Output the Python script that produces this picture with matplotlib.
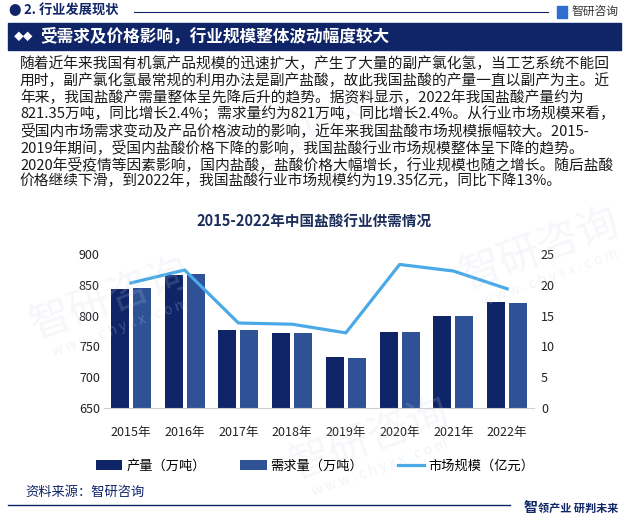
import matplotlib
matplotlib.use("Agg")
import matplotlib.pyplot as plt
import matplotlib.patches as mpatches
from matplotlib.lines import Line2D
import numpy as np

plt.rcParams["font.family"] = ["Noto Sans CJK SC", "DejaVu Sans"]
plt.rcParams["axes.unicode_minus"] = False

# 数据
years = ["2015年", "2016年", "2017年", "2018年", "2019年", "2020年", "2021年", "2022年"]
production = [843, 866, 776, 771, 733, 774, 799, 821.35]
demand = [845, 867, 776, 771, 731, 774, 799, 821]
market_size = [20.3, 22.4, 13.8, 13.6, 12.2, 23.3, 22.24, 19.35]

paragraph = [
    "随着近年来我国有机氯产品规模的迅速扩大，产生了大量的副产氯化氢，当工艺系统不能回",
    "用时，副产氯化氢最常规的利用办法是副产盐酸，故此我国盐酸的产量一直以副产为主。近",
    "年来，我国盐酸产需量整体呈先降后升的趋势。据资料显示，2022年我国盐酸产量约为",
    "821.35万吨，同比增长2.4%；需求量约为821万吨，同比增长2.4%。从行业市场规模来看，",
    "受国内市场需求变动及产品价格波动的影响，近年来我国盐酸市场规模振幅较大。2015-",
    "2019年期间，受国内盐酸价格下降的影响，我国盐酸行业市场规模整体呈下降的趋势。",
    "2020年受疫情等因素影响，国内盐酸，盐酸价格大幅增长，行业规模也随之增长。随后盐酸",
    "价格继续下滑，到2022年，我国盐酸行业市场规模约为19.35亿元，同比下降13%。",
]

NAVY = "#0f2568"
BLUE = "#2f5296"
LINE = "#4aa9e6"
TXT = "#1a1a1a"

W, H = 629, 518
fig = plt.figure(figsize=(W / 100, H / 100), dpi=100)


def fx(px):
    return px / W


def fy(py):
    return 1 - py / H


# 水印（很淡）
for (x, y) in [(110, 300), (330, 130), (370, 440), (540, 250)]:
    fig.text(fx(x), fy(y), "智研咨询", fontsize=30, color="#c9d3e3", alpha=0.18,
             rotation=20, ha="center", va="center", zorder=0)
    fig.text(fx(x + 10), fy(y + 28), "w w w . c h y x x . c o m", fontsize=10,
             color="#c9d3e3", alpha=0.25, rotation=20, ha="center", va="center", zorder=0)

# 顶部标题栏
fig.text(fx(8), fy(11), "●", fontsize=9, color=NAVY, va="center")
fig.text(fx(24), fy(11), "2. 行业发展现状", fontsize=9.5, color=NAVY, weight="bold", va="center")
fig.add_artist(Line2D([fx(134), fx(548)], [fy(12), fy(12)], color=NAVY, lw=0.8))
fig.add_artist(mpatches.Rectangle((fx(557), fy(18)), fx(10), 12 / H, color="#2d6fd0"))
fig.text(fx(571), fy(11), "智研咨询", fontsize=8.5, color="#333333", va="center")

fig.add_artist(mpatches.Rectangle((fx(8), fy(50)), fx(613), 27 / H, color=NAVY))
fig.text(fx(14), fy(37), "◆◆", fontsize=7, color="white", va="center")
fig.text(fx(40), fy(37), "受需求及价格影响，行业规模整体波动幅度较大", fontsize=12,
         color="white", weight="bold", va="center")

# 正文
for i, line in enumerate(paragraph):
    fig.text(fx(20), fy(64 + 16.7 * i), line, fontsize=10.6, color=TXT, va="center")

# 图表标题
fig.text(0.5, fy(222), "2015-2022年中国盐酸行业供需情况", fontsize=10.5, color="#1c2e5c",
         weight="bold", ha="center", va="center")

# 主图
ax = fig.add_axes([fx(104), fy(408), fx(430), (408 - 254) / H])
x = np.arange(len(years))
bw = 0.335
ax.bar(x - 0.205, production, bw, color=NAVY, label="产量（万吨）", zorder=2)
ax.bar(x + 0.205, demand, bw, color=BLUE, label="需求量（万吨）", zorder=2)
ax.set_ylim(650, 900)
ax.set_yticks(np.arange(650, 901, 50))
ax.set_xlim(-0.5, len(years) - 0.5)
ax.set_xticks(x)
ax.set_xticklabels(years)
for s in ["top", "left", "right"]:
    ax.spines[s].set_visible(False)
ax.spines["bottom"].set_color("#d0d0d0")
ax.tick_params(axis="both", length=0, labelsize=9, colors="#222222")
ax.tick_params(axis="x", pad=13)
ax.tick_params(axis="y", pad=3)
ax.patch.set_alpha(0)

ax2 = ax.twinx()
ax2.plot(x, market_size, color=LINE, lw=2.3, label="市场规模（亿元）", zorder=3)
ax2.set_ylim(0, 25)
ax2.set_yticks(np.arange(0, 26, 5))
for s in ["top", "left", "right", "bottom"]:
    ax2.spines[s].set_visible(False)
ax2.tick_params(axis="y", length=0, labelsize=9, colors="#222222", pad=5)

h1, l1 = ax.get_legend_handles_labels()
h2, l2 = ax2.get_legend_handles_labels()
fig.legend(h1 + h2, l1 + l2, loc="center", bbox_to_anchor=(fx(315), fy(466)), ncol=3,
           frameon=False, fontsize=9.5, handlelength=2.0, handleheight=0.7,
           columnspacing=2.6, handletextpad=0.3)

# 底部
fig.text(fx(25), fy(492), "资料来源：智研咨询", fontsize=9.5, color=NAVY, va="center")
fig.add_artist(Line2D([fx(8), fx(510)], [fy(505), fy(505)], color=NAVY, lw=1.0))
fig.text(fx(524), fy(508), "智", fontsize=10, color=NAVY, weight="bold", va="center")
fig.text(fx(538), fy(508), "领产业 研判未来", fontsize=8, color=NAVY, weight="bold", va="center")

fig.savefig("out.png", dpi=100)
